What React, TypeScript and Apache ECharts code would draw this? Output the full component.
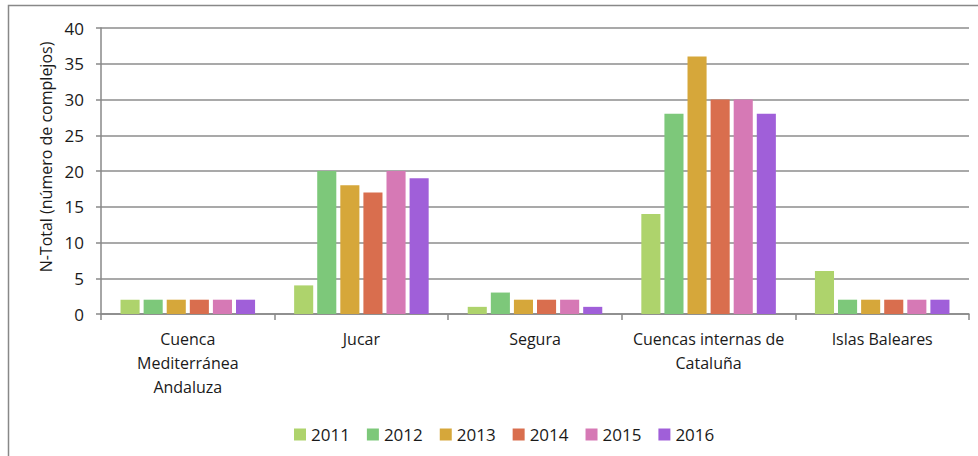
import React, { useEffect, useRef } from "react";
import * as echarts from "echarts";

const categories = [
  "Cuenca\nMediterránea\nAndaluza",
  "Jucar",
  "Segura",
  "Cuencas internas de\nCataluña",
  "Islas Baleares",
];
const years = ["2011", "2012", "2013", "2014", "2015", "2016"];
const v2011 = [2, 4, 1, 14, 6];
const v2012 = [2, 20, 3, 28, 2];
const v2013 = [2, 18, 2, 36, 2];
const v2014 = [2, 17, 2, 30, 2];
const v2015 = [2, 20, 2, 30, 2];
const v2016 = [2, 19, 1, 28, 2];
const seriesValues = [v2011, v2012, v2013, v2014, v2015, v2016];
const colors = ["#AED36C", "#7DC87A", "#D6A73A", "#D96E4E", "#D679B5", "#A05FD9"];
const yAxisTitle = "N-Total (número de complejos)";

const FONT = "'Open Sans', Lato, sans-serif";
const TXT = "#1a1a1a";

export default function App() {
  const ref = useRef<HTMLDivElement>(null);
  useEffect(() => {
    if (!ref.current) return;
    const chart = echarts.init(ref.current, undefined, { renderer: "svg" });
    chart.setOption({
      animation: false,
      backgroundColor: "#ffffff",
      textStyle: { fontFamily: FONT },
      graphic: [
        {
          type: "rect",
          shape: { x: 8.5, y: 5.5, width: 1000, height: 500 },
          style: { fill: "none", stroke: "#888888", lineWidth: 1.5 },
          silent: true,
        },
        {
          type: "text",
          x: 46,
          y: 157,
          rotation: Math.PI / 2,
          style: {
            text: yAxisTitle,
            fontSize: 16,
            fontFamily: FONT,
            fill: TXT,
            align: "center",
            verticalAlign: "middle",
          },
          silent: true,
        },
      ],
      grid: { left: 101, right: 9, top: 28, bottom: 142, containLabel: false },
      legend: {
        data: years,
        left: 289,
        top: 421,
        itemWidth: 12,
        itemHeight: 12,
        itemGap: 17,
        icon: "rect",
        textStyle: { fontSize: 17, color: TXT, fontFamily: FONT },
      },
      xAxis: {
        type: "category",
        data: categories,
        axisLine: { lineStyle: { color: "#888888", width: 1.5 } },
        axisTick: { show: true, length: 6, lineStyle: { color: "#888888", width: 1.5 } },
        axisLabel: {
          fontSize: 16,
          color: TXT,
          lineHeight: 24,
          margin: 13,
          interval: 0,
          fontFamily: FONT,
        },
      },
      yAxis: {
        type: "value",
        min: 0,
        max: 40,
        interval: 5,
        axisLine: { show: true, lineStyle: { color: "#888888", width: 1.5 } },
        axisTick: { show: true, length: 5, lineStyle: { color: "#888888", width: 1.5 } },
        axisLabel: { fontSize: 17, color: TXT, margin: 17, fontFamily: FONT },
        splitLine: { lineStyle: { color: "#8c8c8c", width: 1.5 } },
      },
      series: years.map((y, i) => ({
        name: y,
        type: "bar",
        data: seriesValues[i],
        itemStyle: { color: colors[i] },
        barGap: "21%",
        barCategoryGap: "22.5%",
      })),
    });
    return () => chart.dispose();
  }, []);
  return (
    <div
      ref={ref}
      style={{ position: "fixed", left: 0, top: 0, width: 978, height: 456 }}
    />
  );
}
